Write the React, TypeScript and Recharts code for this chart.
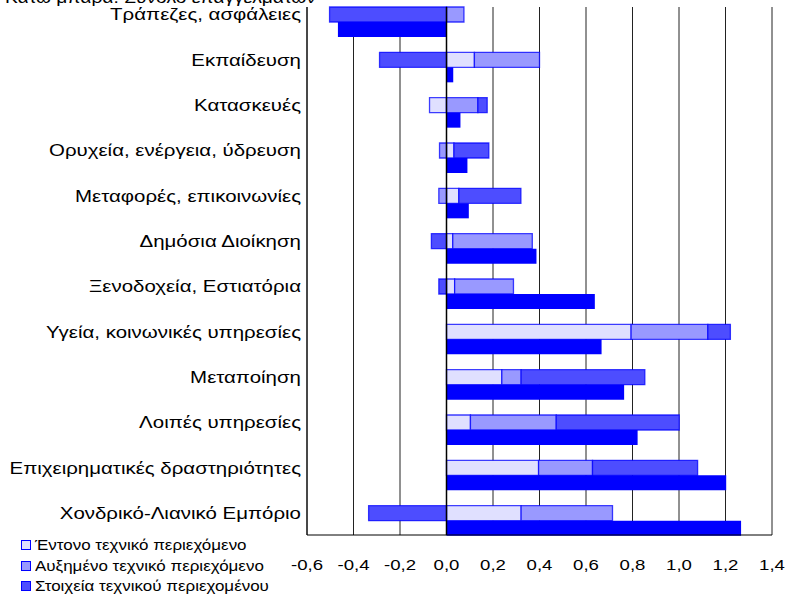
import {
  Bar,
  BarChart,
  CartesianGrid,
  ReferenceLine,
  XAxis,
  YAxis,
} from 'recharts'

const categories = [
  'Τράπεζες, ασφάλειες',
  'Εκπαίδευση',
  'Κατασκευές',
  'Ορυχεία, ενέργεια, ύδρευση',
  'Μεταφορές, επικοινωνίες',
  'Δημόσια Διοίκηση',
  'Ξενοδοχεία, Εστιατόρια',
  'Υγεία, κοινωνικές υπηρεσίες',
  'Μεταποίηση',
  'Λοιπές υπηρεσίες',
  'Επιχειρηματικές δραστηριότητες',
  'Χονδρικό-Λιανικό Εμπόριο',
]

// stacked segments (top bar of each pair)
const entono = [0, 0.12, -0.073, 0.032, 0.053, 0.027, 0.035, 0.794, 0.238, 0.103, 0.396, 0.321]
const afximeno = [0.075, 0.28, 0.135, -0.03, -0.033, 0.342, 0.253, 0.33, 0.083, 0.369, 0.232, 0.393]
const stoixeia = [-0.503, -0.288, 0.04, 0.15, 0.267, -0.065, -0.033, 0.097, 0.532, 0.529, 0.452, -0.335]
// bottom bar: all occupations
const synolo = [-0.467, 0.029, 0.06, 0.09, 0.096, 0.387, 0.638, 0.667, 0.764, 0.822, 1.203, 1.267]

const xTicks = [-0.6, -0.4, -0.2, 0, 0.2, 0.4, 0.6, 0.8, 1.0, 1.2, 1.4]

const series = [
  { key: 'entono', name: 'Έντονο τεχνικό περιεχόμενο', color: '#E0E0FF' },
  { key: 'afximeno', name: 'Αυξημένο τεχνικό περιεχόμενο', color: '#9999FF' },
  { key: 'stoixeia', name: 'Στοιχεία τεχνικού περιεχομένου', color: '#4D4DFF' },
]

const data = categories.map((name, i) => ({
  name,
  entono: entono[i],
  afximeno: afximeno[i],
  stoixeia: stoixeia[i],
  synolo: synolo[i],
}))

const font = '"Liberation Sans", Arial, sans-serif'
// the original text is a bit stretched horizontally
const stretch = 1.2

function CatTick({ x, y, payload }: any) {
  return (
    <g transform={`translate(${x},${y - 7}) scale(1.24,1)`}>
      <text
        x={0}
        y={0}
        textAnchor='end'
        dominantBaseline='central'
        fontSize={16.5}
        fontFamily={font}
        fill='#000'
      >
        {payload.value}
      </text>
    </g>
  )
}

function ValueTick({ x, y, payload }: any) {
  return (
    <g transform={`translate(${x},${y}) scale(${stretch},1)`}>
      <text x={0} y={0} dy='0.71em' textAnchor='middle' fontSize={15.5} fontFamily={font} fill='#000'>
        {payload.value.toFixed(1).replace('.', ',')}
      </text>
    </g>
  )
}

export default function App() {
  return (
    <div style={{ position: 'absolute', left: 0, top: 0, width: 788, height: 598, fontFamily: font }}>
      <div
        style={{
          position: 'absolute',
          left: 5,
          top: -11,
          fontSize: 16,
          lineHeight: '17px',
          whiteSpace: 'nowrap',
          transform: `scaleX(${stretch})`,
          transformOrigin: 'left',
        }}
      >
        Κάτω μπάρα: Σύνολο επαγγελμάτων
      </div>
      <BarChart
        width={788}
        height={598}
        data={data}
        layout='vertical'
        stackOffset='sign'
        barGap={0}
        barCategoryGap={8}
        margin={{ top: 7, right: 16, bottom: 33, left: 0 }}
      >
        <CartesianGrid horizontal={false} stroke='#222' />
        <XAxis
          type='number'
          domain={[-0.6, 1.4]}
          ticks={xTicks}
          interval={0}
          height={30}
          tickLine={false}
          tickSize={6}
          tickMargin={18}
          axisLine={{ stroke: '#000' }}
          tick={<ValueTick />}
        />
        <XAxis
          xAxisId='top'
          orientation='top'
          type='number'
          domain={[-0.6, 1.4]}
          height={0}
          tick={false}
          tickLine={false}
          axisLine={{ stroke: '#000' }}
        />
        <YAxis
          type='category'
          dataKey='name'
          width={307}
          tickLine={false}
          tickSize={6}
          tickMargin={0}
          interval={0}
          padding={{ top: -8, bottom: -8 }}
          axisLine={{ stroke: '#000' }}
          tick={<CatTick />}
        />
        {series.map((s) => (
          <Bar
            key={s.key}
            dataKey={s.key}
            name={s.name}
            stackId='a'
            fill={s.color}
            stroke='#0000FF'
            strokeWidth={1.3}
            strokeOpacity={0.75}
            isAnimationActive={false}
          />
        ))}
        <Bar dataKey='synolo' stackId='b' fill='#0000FF' isAnimationActive={false} />
        <ReferenceLine x={0} stroke='#000' strokeWidth={1.5} />
      </BarChart>
      <div style={{ position: 'absolute', left: 21, top: 535, fontSize: 14.5 }}>
        {series.map((s) => (
          <div key={s.key} style={{ display: 'flex', alignItems: 'center', height: 20.5, whiteSpace: 'nowrap' }}>
            <span
              style={{
                display: 'inline-block',
                width: 8,
                height: 8,
                background: s.color,
                border: '1.5px solid #0000FF',
                marginRight: 4,
              }}
            />
            <span style={{ display: 'inline-block', transform: 'scaleX(1.17)', transformOrigin: 'left' }}>
              {s.name}
            </span>
          </div>
        ))}
      </div>
    </div>
  )
}
